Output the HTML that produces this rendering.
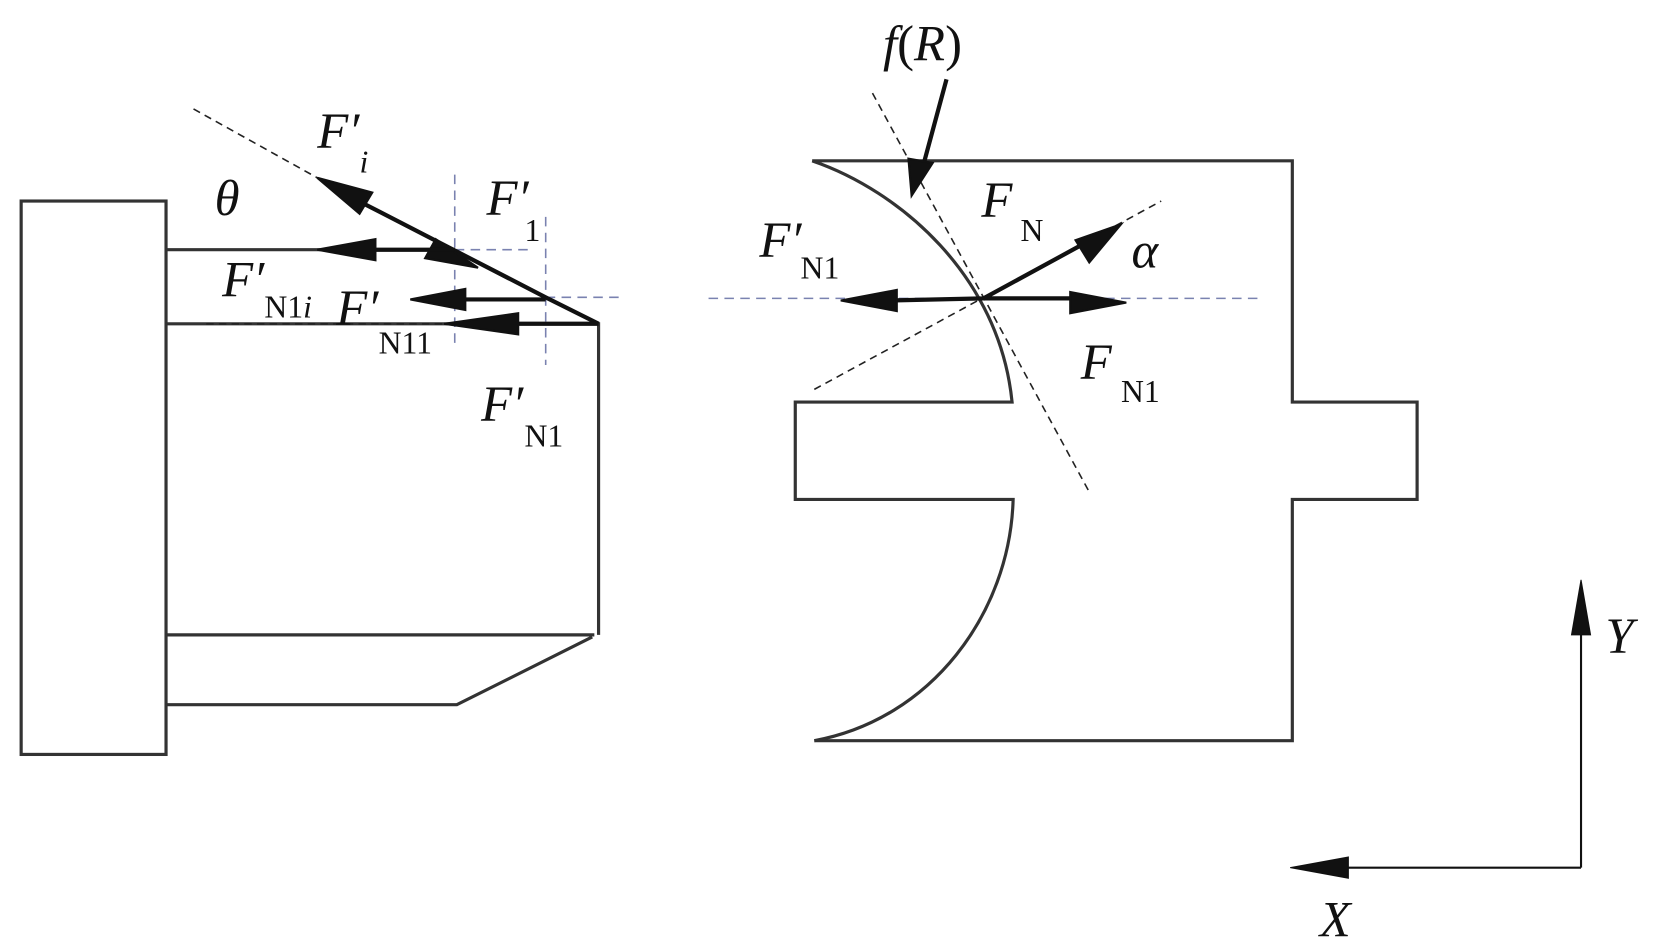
<!DOCTYPE html>
<html><head><meta charset="utf-8"><style>
html,body{margin:0;padding:0;background:#fff;width:1654px;height:947px;overflow:hidden}
svg{display:block}
</style></head><body>
<svg width="1654" height="947" viewBox="0 0 1564 895" preserveAspectRatio="none" xmlns="http://www.w3.org/2000/svg" font-family="'Liberation Serif', 'Times New Roman', serif">
<g fill="none" stroke="#333" stroke-width="3">
<rect x="20" y="190" width="137" height="523"/>
<path d="M157 236H430M157 306H566V600M157 600H562M157 666H432L560 602"/>
<path d="M768 152H1222V380H1340V472H1222V700H770"/>
<path d="M768 152C850 180 945 260 957 380H752V472H958C955 580 880 680 770 700"/>
</g>
<g fill="none" stroke="#7a82b0" stroke-width="1.5" stroke-dasharray="9,6">
<path d="M430 165V330M516 205V345M430 236H500M516 281H585M670 282H1195"/>
</g>
<g fill="none" stroke="#222" stroke-width="1.5" stroke-dasharray="7,5">
<path d="M183 103L300 168M195 306H430M825 88L1030 465M770 368L1098 190"/>
</g>
<g stroke="#111" stroke-width="4" fill="#111">
<path d="M345 193L516 281L566 306" fill="none"/>
<polygon points="300,168 352,182 340,202" stroke-width="2"/>
<polygon points="452,253 412,226 402,244" stroke-width="2"/>
<path d="M345 236H430M430 283H516M470 306H566" fill="none"/>
<polygon points="300,236 355,226 355,246" stroke-width="2"/>
<polygon points="388,283 440,273 440,293" stroke-width="2"/>
<polygon points="420,306 490,296 490,316" stroke-width="2"/>
<path d="M930 282L1020 233M930 282H1015M930 282L840 284M895 75L872 160" fill="none"/>
<polygon points="1060,212 1030,248 1017,227" stroke-width="2"/>
<polygon points="1065,286 1012,276 1012,296" stroke-width="2"/>
<polygon points="795,284 848,274 848,294" stroke-width="2"/>
<polygon points="862,185 859,150 882,154" stroke-width="2"/>
<path d="M1495 820V600M1495 820H1270" fill="none" stroke-width="2"/>
<polygon points="1495,548 1486,600 1504,600" stroke-width="1"/>
<polygon points="1220,820 1275,810 1275,830" stroke-width="1"/>
</g>
<g font-size="48" fill="#111" font-style="italic">
<text x="300" y="140">F′</text><text x="340" y="163" font-size="30">i</text>
<text x="203" y="203">θ</text>
<text x="460" y="203">F′</text><text x="496" y="228" font-size="30" font-style="normal">1</text>
<text x="210" y="280">F′</text><text x="250" y="300" font-size="30" font-style="normal">N1<tspan font-style="italic">i</tspan></text>
<text x="318" y="307">F′</text><text x="358" y="334" font-size="30" font-style="normal">N11</text>
<text x="455" y="398">F′</text><text x="496" y="422" font-size="30" font-style="normal">N1</text>
<text x="835" y="57">f<tspan font-style="normal">(</tspan>R<tspan font-style="normal">)</tspan></text>
<text x="928" y="205">F</text><text x="965" y="228" font-size="30" font-style="normal">N</text>
<text x="1070" y="253">α</text>
<text x="718" y="243">F′</text><text x="757" y="263" font-size="30" font-style="normal">N1</text>
<text x="1022" y="358">F</text><text x="1060" y="380" font-size="30" font-style="normal">N1</text>
<text x="1518" y="617">Y</text>
<text x="1248" y="885">X</text>
</g>
</svg>
</body></html>
